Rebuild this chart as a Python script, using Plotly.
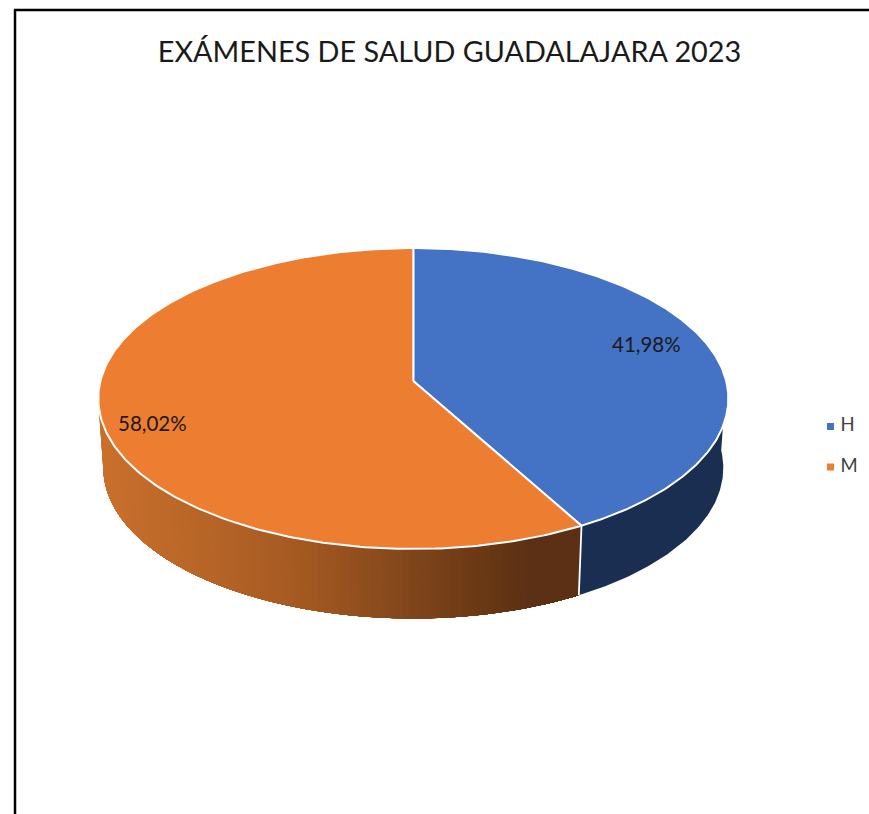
import numpy as np
import plotly.graph_objects as go

TITLE = "EXÁMENES DE SALUD GUADALAJARA 2023"
categories = ["H", "M"]
shares = [41.98, 58.02]
top_colors = ["#4472C4", "#ED7D31"]
side_blue = "#1A2E52"
# orange wall shading, from the left of the wall to the right
grad_x = [100, 200, 300, 400, 500, 535, 585]
grad_r = [202, 184, 165, 132, 101, 92, 92]
grad_g = [112, 102, 90, 72, 54, 48, 48]
grad_b = [45, 40, 34, 28, 20, 20, 20]

W, H = 869, 814
CX, CY, A, B, K = 413.3, 381.0, 312.9, 104.1, -0.1163  # projected disc
S_X, DY = 0.984, 69.5


def top(theta):
    x, y = np.sin(theta), -np.cos(theta)
    d = 1 + K * y
    return CX + A * x / d, (CY + B * y) / d


def low(theta):
    u, v = top(theta)
    return CX + S_X * (u - CX), v + DY


def wall(t0, t1, color, n):
    tt = np.linspace(t0, t1, n)
    ux, uy = top(tt)
    lx, ly = low(tt[::-1])
    fig.add_trace(go.Scatter(
        x=np.concatenate([ux, lx]), y=np.concatenate([uy, ly]), mode="lines",
        fill="toself", fillcolor=color, line=dict(color="rgba(0,0,0,0)", width=0),
        hoverinfo="skip", showlegend=False))


fracs = np.array(shares) / sum(shares)
edges = np.concatenate([[0], np.cumsum(fracs)]) * 2 * np.pi
t_right, t_left, t_cut = np.pi / 2, 3 * np.pi / 2, edges[1]

fig = go.Figure()

# blue wall
wall(t_right, t_cut, side_blue, 80)

# orange wall: each layer reaches to the cut, so no seams show between steps
bounds = np.linspace(t_left, t_cut, 110)
for t0, t1 in zip(bounds[:-1], bounds[1:]):
    xm = top((t0 + t1) / 2)[0]
    c = (int(np.interp(xm, grad_x, grad_r)), int(np.interp(xm, grad_x, grad_g)),
         int(np.interp(xm, grad_x, grad_b)))
    wall(t0, t_cut, "rgb(%d,%d,%d)" % c, 80)

# white seam between the two walls
a, b = top(t_cut), low(t_cut)
fig.add_trace(go.Scatter(x=[a[0], b[0]], y=[a[1], b[1]], mode="lines",
                         line=dict(color="white", width=1.8),
                         hoverinfo="skip", showlegend=False))

# top faces
for i, name in enumerate(categories):
    tt = np.linspace(edges[i], edges[i + 1], 240)
    ux, uy = top(tt)
    fig.add_trace(go.Scatter(
        x=np.concatenate([[CX], ux, [CX]]), y=np.concatenate([[CY], uy, [CY]]),
        mode="lines", fill="toself", fillcolor=top_colors[i],
        line=dict(color="white", width=2), hoverinfo="skip", showlegend=False))

# legend keys
fig.add_trace(go.Scatter(
    x=[830.5, 830.5], y=[426.5, 467], mode="markers+text", text=[" " + c for c in categories],
    textposition="middle right", cliponaxis=False,
    textfont=dict(family="Lato", size=18.5, color="#404040"),
    marker=dict(symbol="square", size=7, color=top_colors, line=dict(width=0)),
    hoverinfo="skip", showlegend=False))

label_pos = [(646, 344), (152, 423)]
for (lx_, ly_), v in zip(label_pos, shares):
    fig.add_annotation(x=lx_, y=ly_, text=f"{v:.2f}%".replace(".", ","), showarrow=False,
                       font=dict(family="Lato", size=20.5, color="#1a1a1a"))

fig.update_layout(
    width=W, height=H, autosize=False, margin=dict(l=0, r=0, t=0, b=0),
    paper_bgcolor="white", plot_bgcolor="white",
    font=dict(family="Lato"),
    title=dict(text=TITLE, x=449.5 / W, xanchor="center", y=1 - 52 / H, yanchor="middle",
               font=dict(family="Lato", size=28.8, color="#1a1a1a")),
    xaxis=dict(visible=False, range=[0, W], fixedrange=True),
    yaxis=dict(visible=False, range=[H, 0], fixedrange=True),
    showlegend=False,
    shapes=[
        dict(type="line", xref="x", yref="y", x0=15, x1=15, y0=9.5, y1=H,
             line=dict(color="black", width=2.5)),
        dict(type="line", xref="x", yref="y", x0=14, x1=W, y0=10, y1=10,
             line=dict(color="black", width=2.5)),
    ],
)

fig.write_html("out.html", post_script='document.body.style.margin="0";',
               config=dict(displayModeBar=False))
